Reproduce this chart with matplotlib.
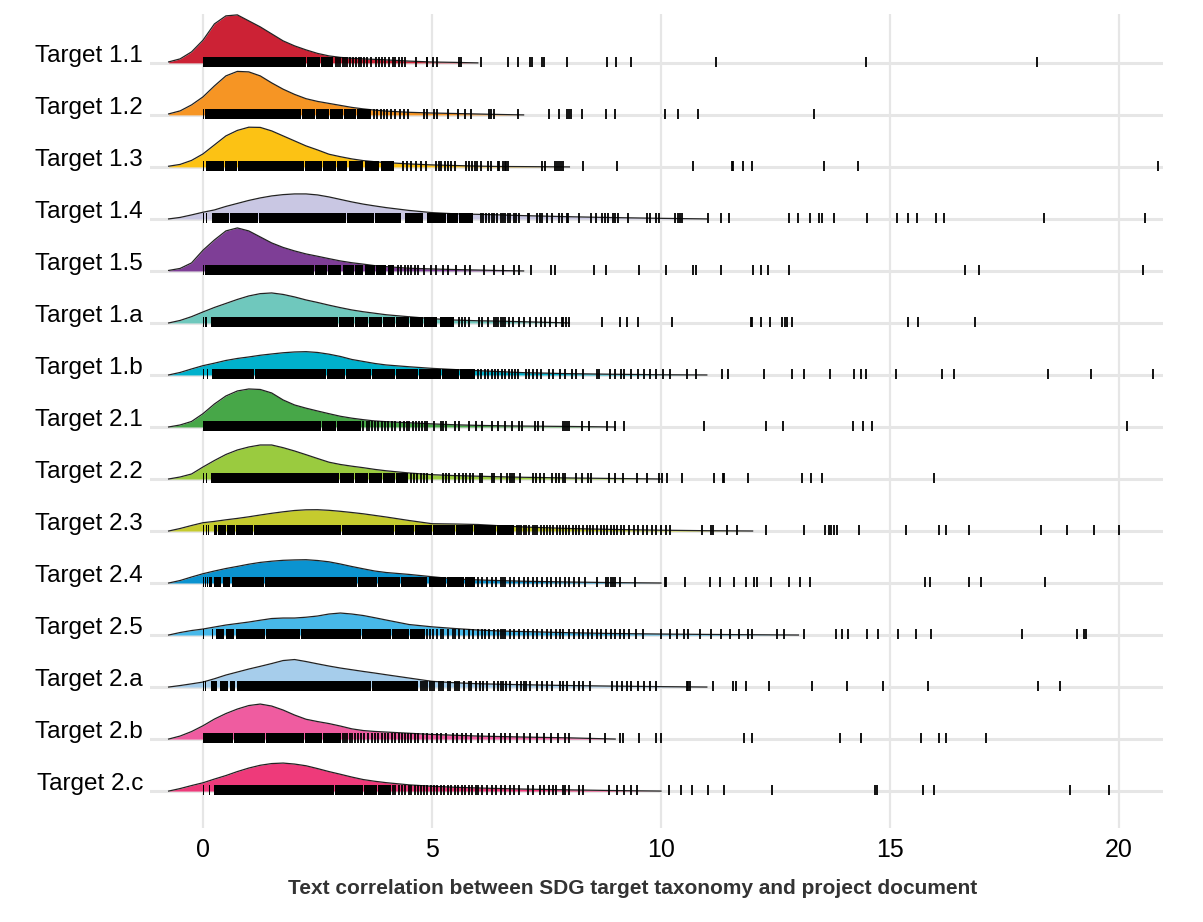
import numpy as np
import matplotlib.pyplot as plt

plt.rcParams['font.family'] = ['Liberation Sans', 'DejaVu Sans']

targets = ["Target 1.1", "Target 1.2", "Target 1.3", "Target 1.4", "Target 1.5",
           "Target 1.a", "Target 1.b", "Target 2.1", "Target 2.2", "Target 2.3",
           "Target 2.4", "Target 2.5", "Target 2.a", "Target 2.b", "Target 2.c"]
colors = ["#cc2235", "#f69524", "#fcc214", "#c9c7e3", "#7e3e96",
          "#6fc8bd", "#00b1cc", "#47a748", "#9acb3f", "#c5cb2e",
          "#0b93d0", "#47b8e9", "#a6cdeb", "#ef5ca0", "#ee3a7a"]

# density curves (height in pixels, row spacing = 52 px)
dens_x = [-0.75, -0.5, -0.25, 0, 0.25, 0.5, 0.75, 1.0, 1.25, 1.5, 1.75, 2.0, 2.25, 2.5,
          2.75, 3.0, 3.25, 3.5, 3.75, 4.0, 4.5, 5, 5.5, 6, 6.5, 7, 8, 9, 10, 11, 12, 13]
n = np.nan
dens_11 = [1, 4, 11, 22.7, 39, 47, 48, 42, 36, 29, 22, 17, 13, 9.5, 7, 5.5, 4.6, 4, 3.5, 3,
           1.8, 0.9, 0.5, 0, n, n, n, n, n, n, n, n]
dens_12 = [1, 4, 10, 18, 29, 39, 43.5, 43, 39, 32, 25.7, 20.5, 16.2, 13.5, 11.5, 9.5, 7.5, 6,
           4.8, 3.8, 2.6, 1.9, 1.4, 0.9, 0.4, 0, n, n, n, n, n, n]
dens_13 = [0.7, 2.5, 6.5, 13, 22, 31, 36.5, 39.7, 39.5, 36, 31, 26, 21, 17, 12.7, 10.2, 8, 6.3,
           5.2, 4.3, 3, 2, 1.4, 0.8, 0.4, 0.3, 0, n, n, n, n, n]
dens_14 = [0, 1.5, 4, 6.7, 9, 12.5, 15.5, 18.5, 21, 23, 24.3, 25, 25, 24, 22, 19.5, 17, 14.8,
           13, 11.3, 8.5, 6.3, 5.1, 4.6, 4, 3.3, 2.2, 1.3, 0.6, 0, n, n]
dens_15 = [0.5, 2.5, 8, 20.7, 31, 40, 43, 40, 34, 28, 23.5, 20, 17, 14.7, 12.3, 10, 8.2, 6.8,
           5.3, 4.3, 2.7, 2, 1.4, 0.9, 0.4, 0, n, n, n, n, n, n]
dens_1a = [0, 2.5, 6.3, 11, 15.5, 19.5, 23.5, 27, 29.3, 30, 28.5, 26, 23, 20.5, 17.8, 15.3, 13,
           11.2, 9.7, 8.2, 6.2, 4.3, 2.9, 2.2, 1.8, 1.2, 0, n, n, n, n, n]
dens_1b = [0, 2.5, 6, 9.3, 11.8, 14.5, 16.5, 18, 19.7, 21, 22.2, 23, 23.3, 22.5, 20.8, 18.5,
           15.5, 13.5, 11.5, 10, 8.2, 6.6, 5.4, 4.3, 3.3, 2.3, 1.3, 0.7, 0.2, 0, n, n]
dens_21 = [0, 2, 5.5, 13.3, 23, 31, 36, 38, 37.5, 34, 27, 22, 18.8, 16, 13.3, 10.7, 8.8, 7.3,
           6, 5.3, 4.2, 3.1, 2.2, 1.6, 1.2, 0.9, 0.5, 0, n, n, n, n]
dens_22 = [0, 2, 5, 12, 18.5, 24.5, 29, 32, 34, 34, 31.3, 28, 24.3, 20.5, 16.8, 14.5, 12.8,
           11.3, 9.6, 8.2, 6, 4.3, 3.4, 2.8, 2.2, 1.7, 1, 0.5, 0, n, n, n]
dens_23 = [0, 2.5, 5.5, 8.3, 9.6, 11.2, 12.6, 14.2, 16, 17.7, 19.2, 20.5, 21.2, 21.3, 20.7,
           19.7, 18.5, 17.2, 15.6, 14, 10.5, 7.3, 7, 6.5, 5.2, 4, 2.5, 1.5, 0.8, 0.3, 0, n]
dens_24 = [0, 2.5, 6, 9.3, 12, 14.5, 16.6, 18.8, 20.6, 21.8, 22.7, 23.1, 23.3, 22.5, 21.2, 19,
           16.5, 14.2, 12, 10.5, 8.6, 6.3, 4, 3.1, 2.4, 1.8, 1, 0.4, 0, n, n, n]
dens_25 = [0, 2.5, 4.5, 6, 8, 10, 11.5, 13, 14.8, 16.5, 17, 17, 17.8, 19, 21, 22, 21, 19.5,
           17.3, 15, 10.5, 8.2, 6.5, 5, 4, 3.5, 2.3, 1.5, 1, 0.6, 0.3, 0]
dens_2a = [0, 1.5, 3.2, 5, 8.3, 12, 15, 18, 20.7, 23.5, 26.5, 27.5, 25.5, 23.2, 21, 19, 17.3,
           15.6, 14, 12.3, 9, 5.7, 4.3, 3.3, 2.8, 2.3, 1.5, 0.9, 0.4, 0, n, n]
dens_2b = [0, 3, 7.5, 13.3, 20, 25.5, 30, 33.5, 35, 33, 29, 24, 19.8, 17.5, 15.5, 13, 10.2, 8.5,
           7.6, 7, 5.8, 4.6, 3.8, 3, 2.5, 2, 1.2, 0, n, n, n, n]
dens_2c = [0, 2.5, 5.5, 8.3, 12, 15.5, 19.5, 23, 25.8, 27.5, 28, 27, 25.3, 22.5, 19.5, 16.8, 14,
           11.5, 9.8, 8.4, 6.2, 4.8, 3.8, 3.1, 2.5, 2, 1.2, 0.5, 0, n, n, n]

# rug: solid runs (start, end) and single ticks
core_11 = [(0, 2.24), (2.26, 2.55), (2.57, 2.83)]
ticks_11 = [2.9, 2.95, 3.0, 3.05, 3.1, 3.15, 3.2, 3.27, 3.33, 3.4, 3.45, 3.52, 3.57, 3.67, 3.78,
            3.85, 3.9, 3.98, 4.07, 4.14, 4.2, 4.28, 4.35, 4.4, 4.66, 4.88, 4.9, 5.03, 5.1, 5.6,
            5.63, 6.06, 6.66, 6.87, 7.13, 7.18, 7.41, 7.44, 7.94, 8.82, 9.01, 9.35, 11.2, 14.48, 18.2]
core_12 = [(0, 0.02), (0.05, 2.14), (2.16, 2.45), (2.47, 2.75), (2.77, 3.05), (3.07, 3.35), (3.37, 3.67)]
ticks_12 = [3.74, 3.8, 3.88, 3.95, 4.02, 4.1, 4.2, 4.3, 4.38, 4.47, 4.83, 4.9, 5.05, 5.12, 5.34,
            5.56, 5.71, 5.85, 6.25, 6.29, 6.36, 6.87, 7.55, 7.77, 7.94, 8.0, 8.03, 8.27, 8.8, 8.99,
            10.09, 10.36, 10.81, 13.34]
core_13 = [(0, 0.03), (0.06, 0.45), (0.47, 0.75), (0.77, 2.2), (2.22, 2.6), (2.62, 2.9),
           (2.92, 3.15), (3.18, 3.5), (3.53, 3.85), (3.88, 4.18)]
ticks_13 = [4.36, 4.45, 4.55, 4.65, 4.75, 4.87, 5.09, 5.15, 5.2, 5.28, 5.35, 5.42, 5.5, 5.74, 5.8,
            5.87, 5.94, 5.98, 6.07, 6.22, 6.29, 6.44, 6.47, 6.54, 6.6, 6.62, 6.65, 7.41, 7.47, 7.69,
            7.73, 7.77, 7.82, 7.86, 8.29, 9.03, 10.7, 11.55, 11.57, 11.8, 11.99, 13.56, 14.3, 20.84]
core_14 = [(0, 0.02), (0.06, 0.08), (0.2, 0.57), (0.6, 1.2), (1.23, 3.12), (3.14, 3.74),
           (3.76, 4.32), (4.4, 4.8), (4.88, 5.3), (5.33, 5.56), (5.6, 5.89)]
ticks_14 = [6.07, 6.12, 6.18, 6.25, 6.3, 6.36, 6.42, 6.5, 6.55, 6.6, 6.65, 6.7, 6.78, 6.84, 6.9,
            7.1, 7.12, 7.3, 7.35, 7.4, 7.5, 7.62, 7.78, 7.83, 7.95, 7.97, 8.22, 8.47, 8.58, 8.72,
            8.78, 8.85, 8.95, 9.0, 9.07, 9.29, 9.69, 9.76, 9.9, 9.95, 10.31, 10.36, 10.42, 10.46,
            11.02, 11.31, 11.49, 12.8, 13.0, 13.26, 13.44, 13.51, 13.78, 14.5, 15.16, 15.4, 15.59,
            16.0, 16.18, 18.37, 20.56]
core_15 = [(0, 0.03), (0.05, 2.43), (2.45, 2.7), (2.72, 3.01), (3.06, 3.3), (3.32, 3.5),
           (3.53, 3.75), (3.78, 4.0), (4.03, 4.18)]
ticks_15 = [4.25, 4.33, 4.4, 4.47, 4.55, 4.62, 4.7, 4.83, 4.98, 5.09, 5.23, 5.34, 5.52, 5.71, 5.82,
            6.14, 6.36, 6.55, 6.8, 6.9, 7.16, 7.6, 7.69, 8.53, 8.79, 9.52, 10.1, 10.7, 10.76, 11.31,
            12.0, 12.18, 12.34, 12.8, 16.64, 16.95, 20.53]
core_1a = [(0, 0.02), (0.05, 0.08), (0.17, 2.94), (2.97, 3.3), (3.32, 3.6), (3.62, 3.9), (3.92, 4.2),
           (4.22, 4.5), (4.52, 4.8), (4.82, 5.12), (5.18, 5.49)]
ticks_1a = [5.6, 5.65, 5.72, 5.8, 6.03, 6.1, 6.22, 6.36, 6.4, 6.45, 6.5, 6.55, 6.6, 6.68, 6.76, 6.9,
            7.0, 7.14, 7.28, 7.38, 7.47, 7.58, 7.7, 7.83, 7.87, 7.92, 8.0, 8.71, 9.1, 9.26, 9.5,
            10.24, 11.96, 11.99, 12.18, 12.37, 12.64, 12.7, 12.75, 12.86, 15.4, 15.62, 16.86]
core_1b = [(0, 0.02), (0.08, 0.1), (0.2, 1.12), (1.14, 2.68), (2.7, 3.1), (3.12, 3.67), (3.69, 4.2),
           (4.22, 4.7), (4.72, 5.2), (5.22, 5.6), (5.62, 5.93)]
ticks_1b = [6.0, 6.08, 6.15, 6.22, 6.3, 6.38, 6.45, 6.52, 6.6, 6.68, 6.75, 6.82, 6.87, 7.06, 7.12,
            7.2, 7.3, 7.39, 7.56, 7.65, 7.8, 7.9, 8.05, 8.15, 8.29, 8.6, 8.65, 8.89, 9.0, 9.12, 9.2,
            9.34, 9.5, 9.62, 9.75, 9.9, 10.05, 10.19, 10.57, 10.77, 11.34, 11.46, 12.25, 12.86,
            13.12, 13.7, 14.22, 14.36, 14.48, 15.14, 16.14, 16.39, 18.45, 19.39, 20.75]
core_21 = [(0, 2.57), (2.59, 2.9), (2.92, 3.2), (3.22, 3.45)]
ticks_21 = [3.5, 3.57, 3.62, 3.7, 3.75, 3.82, 3.9, 3.98, 4.05, 4.12, 4.2, 4.3, 4.38, 4.45, 4.5,
            4.58, 4.65, 4.72, 4.78, 4.85, 4.9, 5.05, 5.2, 5.25, 5.3, 5.5, 5.6, 5.8, 5.95, 6.1, 6.3,
            6.45, 6.6, 6.75, 6.9, 6.97, 7.24, 7.32, 7.42, 7.87, 7.9, 7.95, 8.0, 8.27, 8.43, 8.81,
            9.0, 9.19, 10.94, 12.29, 12.66, 14.2, 14.42, 14.6, 20.18]
core_22 = [(0, 0.02), (0.07, 0.09), (0.17, 2.97), (2.99, 3.3), (3.32, 3.6), (3.62, 3.9),
           (3.92, 4.2), (4.22, 4.47)]
ticks_22 = [4.55, 4.6, 4.68, 4.75, 4.82, 4.9, 5.0, 5.25, 5.3, 5.38, 5.5, 5.6, 5.68, 5.75, 5.82, 5.9,
            6.05, 6.1, 6.3, 6.35, 6.5, 6.64, 6.7, 6.75, 6.8, 6.92, 7.2, 7.28, 7.35, 7.44, 7.63, 7.7,
            7.78, 7.85, 7.91, 8.15, 8.28, 8.4, 8.48, 8.86, 9.0, 9.17, 9.48, 9.7, 9.95, 10.02, 10.14,
            10.45, 11.16, 11.35, 11.37, 11.9, 13.08, 13.28, 13.52, 15.96]
core_23 = [(0, 0.02), (0.06, 0.08), (0.12, 0.14), (0.24, 0.3), (0.33, 0.5), (0.53, 0.7),
           (0.73, 1.1), (1.12, 3.01), (3.03, 4.18), (4.2, 4.6), (4.62, 5.0), (5.02, 5.5),
           (5.52, 5.9), (5.92, 6.4), (6.42, 6.8)]
ticks_23 = [6.85, 6.9, 6.95, 7.0, 7.06, 7.12, 7.2, 7.25, 7.3, 7.38, 7.45, 7.5, 7.58, 7.65, 7.72,
            7.8, 7.86, 7.92, 8.0, 8.08, 8.15, 8.22, 8.3, 8.38, 8.45, 8.52, 8.6, 8.68, 8.75, 8.82,
            8.9, 8.98, 9.05, 9.12, 9.2, 9.3, 9.4, 9.5, 9.6, 9.7, 9.8, 9.9, 10.0, 10.1, 10.2, 10.9,
            11.09, 11.14, 11.45, 11.66, 12.29, 13.13, 13.58, 13.66, 13.72, 13.78, 13.84, 14.33,
            15.34, 16.06, 16.23, 16.73, 18.3, 18.87, 19.46, 20.01]
core_24 = [(0, 0.02), (0.04, 0.06), (0.09, 0.11), (0.14, 0.2), (0.24, 0.4), (0.43, 0.6),
           (0.63, 1.33), (1.35, 3.37), (3.39, 3.8), (3.82, 4.3), (4.32, 4.9), (4.93, 5.3),
           (5.33, 5.7), (5.73, 5.93)]
ticks_24 = [6.0, 6.1, 6.2, 6.3, 6.4, 6.5, 6.55, 6.6, 6.7, 6.8, 6.9, 7.0, 7.1, 7.2, 7.3, 7.4, 7.5,
            7.6, 7.7, 7.8, 7.9, 8.0, 8.1, 8.2, 8.34, 8.6, 8.79, 8.85, 8.9, 8.95, 9.0, 9.1, 9.43,
            10.08, 10.1, 10.52, 11.06, 11.28, 11.6, 11.85, 12.03, 12.09, 12.4, 12.79, 13.03, 13.25,
            15.76, 15.88, 16.73, 16.98, 18.39, 20.98]
core_25 = [(0, 0.02), (0.2, 0.22), (0.28, 0.46), (0.5, 0.68), (0.71, 1.35), (1.37, 2.12),
           (2.14, 3.45), (3.47, 4.1), (4.13, 4.5), (4.53, 4.85)]
ticks_25 = [4.9, 4.95, 5.02, 5.1, 5.2, 5.25, 5.35, 5.45, 5.5, 5.6, 5.7, 5.8, 5.9, 6.0, 6.1, 6.15,
            6.25, 6.35, 6.45, 6.5, 6.55, 6.6, 6.7, 6.8, 6.9, 7.0, 7.1, 7.2, 7.3, 7.4, 7.5, 7.6, 7.7,
            7.8, 7.87, 8.0, 8.1, 8.2, 8.3, 8.4, 8.5, 8.6, 8.7, 8.8, 8.9, 9.0, 9.1, 9.2, 9.3, 9.45,
            9.6, 10.0, 10.2, 10.35, 10.5, 10.6, 10.85, 11.09, 11.3, 11.5, 11.7, 11.9, 11.99, 12.53,
            12.68, 13.12, 13.81, 13.95, 14.09, 14.5, 14.73, 15.18, 15.56, 15.9, 17.88, 19.08,
            19.24, 19.28]
core_2a = [(0, 0.02), (0.05, 0.07), (0.1, 0.12), (0.17, 0.3), (0.38, 0.55), (0.6, 0.7),
           (0.75, 3.67), (3.69, 4.69)]
ticks_2a = [4.75, 4.8, 4.85, 4.9, 4.95, 5.0, 5.05, 5.15, 5.2, 5.25, 5.35, 5.4, 5.5, 5.55, 5.6, 5.7,
            5.8, 5.85, 5.95, 6.05, 6.12, 6.2, 6.35, 6.45, 6.5, 6.55, 6.62, 6.7, 6.85, 6.95, 7.0,
            7.05, 7.15, 7.3, 7.4, 7.5, 7.63, 7.8, 7.85, 7.95, 8.1, 8.2, 8.3, 8.45, 8.94, 9.05, 9.15,
            9.25, 9.34, 9.5, 9.62, 9.75, 9.9, 10.57, 10.6, 10.64, 11.14, 11.58, 11.63, 11.86, 12.36,
            13.3, 14.07, 14.85, 15.84, 18.22, 18.72]
core_2b = [(0, 0.65), (0.67, 1.35), (1.37, 2.21), (2.23, 2.6), (2.62, 3.01)]
ticks_2b = [3.05, 3.1, 3.15, 3.2, 3.25, 3.32, 3.38, 3.45, 3.52, 3.6, 3.68, 3.75, 3.82, 3.9, 3.97,
            4.05, 4.12, 4.2, 4.28, 4.35, 4.42, 4.47, 4.55, 4.62, 4.7, 4.8, 4.9, 5.0, 5.1, 5.2, 5.3,
            5.45, 5.55, 5.65, 5.75, 5.85, 6.0, 6.1, 6.25, 6.35, 6.5, 6.6, 6.7, 6.85, 7.0, 7.15, 7.3,
            7.45, 7.6, 7.75, 7.9, 8.0, 8.45, 8.77, 9.1, 9.17, 9.52, 9.88, 10.01, 11.81, 11.98, 13.9,
            14.36, 15.67, 16.06, 16.23, 17.1]
core_2c = [(0, 0.02), (0.13, 0.15), (0.24, 2.86), (2.88, 3.2), (3.22, 3.5), (3.52, 3.8), (3.83, 4.1)]
ticks_2c = [4.15, 4.2, 4.28, 4.35, 4.42, 4.5, 4.55, 4.62, 4.7, 4.75, 4.82, 4.9, 4.97, 5.05, 5.12,
            5.2, 5.27, 5.35, 5.42, 5.5, 5.57, 5.65, 5.72, 5.8, 5.87, 5.95, 6.0, 6.1, 6.2, 6.3, 6.4,
            6.5, 6.6, 6.7, 6.8, 6.9, 7.1, 7.2, 7.35, 7.45, 7.55, 7.65, 7.7, 7.85, 7.9, 8.0, 8.2, 8.3,
            8.86, 9.05, 9.2, 9.35, 9.48, 10.17, 10.43, 10.68, 11.02, 11.37, 12.43, 14.68, 14.72,
            15.72, 15.95, 18.94, 19.78]

dens = [dens_11, dens_12, dens_13, dens_14, dens_15, dens_1a, dens_1b, dens_21, dens_22,
        dens_23, dens_24, dens_25, dens_2a, dens_2b, dens_2c]
cores = [core_11, core_12, core_13, core_14, core_15, core_1a, core_1b, core_21, core_22,
         core_23, core_24, core_25, core_2a, core_2b, core_2c]
ticks = [ticks_11, ticks_12, ticks_13, ticks_14, ticks_15, ticks_1a, ticks_1b, ticks_21,
         ticks_22, ticks_23, ticks_24, ticks_25, ticks_2a, ticks_2b, ticks_2c]

W, H = 1203, 922
fig = plt.figure(figsize=(W / 100, H / 100), dpi=100)
ax = fig.add_axes([150 / W, 1 - 828 / H, (1163 - 150) / W, (828 - 14) / H])
ax.set_xlim(-1.157, 20.96)
ax.set_ylim(-0.71, 14.94)
for s in ax.spines.values():
    s.set_visible(False)

grid_c = "#e6e6e6"
xticks = [0, 5, 10, 15, 20]
for xv in xticks:
    ax.axvline(xv, color=grid_c, lw=1.6, zorder=0)

x = np.array(dens_x)
nrow = len(targets)
for k in range(nrow):
    base = nrow - 1 - k
    ax.axhline(base, color=grid_c, lw=2.2, zorder=0)
    h = np.array(dens[k], dtype=float)
    ok = ~np.isnan(h)
    ys = base + h[ok] / 52
    z = 2 + k
    ax.fill_between(x[ok], base, ys, color=colors[k], lw=0, zorder=z)
    ax.plot(x[ok], ys, color="#222222", lw=0.9, zorder=z + 0.1)
    ax.text(-0.007, base + 0.02, targets[k], transform=ax.get_yaxis_transform(),
            ha="right", va="baseline", fontsize=17.5, color="black")

for k in range(nrow):
    base = nrow - 1 - k
    lo, hi = base - 0.07, base + 0.12
    ax.broken_barh([(a, b - a) for a, b in cores[k]], (lo, hi - lo),
                   facecolors="black", zorder=30)
    ax.vlines(ticks[k], lo, hi, colors="black", lw=1.3, zorder=30)

ax.set_xticks(xticks)
ax.set_xticklabels([str(v) for v in xticks])
ax.set_yticks([])
ax.tick_params(axis="x", length=0, pad=7, labelsize=18, colors="black")

fig.text(0.526, 1 - 888 / H, "Text correlation between SDG target taxonomy and project document",
         ha="center", va="center", fontsize=15, fontweight="bold", color="#333333")

fig.savefig("out.png", dpi=100)
